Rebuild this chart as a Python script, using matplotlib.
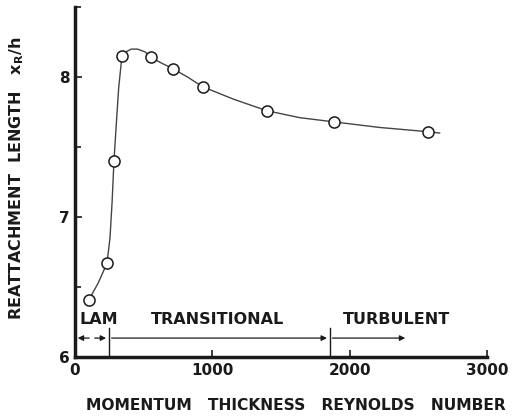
import numpy as np
import matplotlib.pyplot as plt

# measured points (momentum thickness Reynolds number, x_R/h)
re_theta = [102, 233, 284, 342, 553, 713, 931, 1396, 1884, 2567]
xr_h = [6.41, 6.67, 7.40, 8.15, 8.14, 8.06, 7.93, 7.76, 7.68, 7.61]

# faired curve
curve_x = [102, 170, 233, 255, 270, 284, 300, 318, 342, 370, 410, 455, 510, 553,
           630, 713, 820, 931, 1160, 1396, 1636, 1884, 2218, 2567, 2655]
curve_y = [6.41, 6.53, 6.67, 6.85, 7.10, 7.40, 7.65, 7.92, 8.15, 8.18, 8.20, 8.20, 8.18, 8.14,
           8.10, 8.06, 8.00, 7.93, 7.84, 7.76, 7.71, 7.68, 7.64, 7.61, 7.60]

# regime boundaries and labels
lam_end = 247
trans_end = 1855
turb_end = 2425
regimes = ['LAM', 'TRANSITIONAL', 'TURBULENT']
regime_x = [30, 1040, 2340]

plt.rcParams['font.family'] = 'DejaVu Sans'
plt.rcParams['font.weight'] = 'bold'

fig = plt.figure(figsize=(5.17, 4.18), dpi=100)
ax = fig.add_axes([0.145, 0.146, 0.797, 0.837])

ink = '#1a1a1a'
ax.plot(curve_x, curve_y, '-', color='#444444', lw=1.0)
ax.plot(re_theta, xr_h, 'o', mfc='white', mec=ink, ms=8, mew=1.1)

ax.set_xlim(0, 3000)
ax.set_ylim(6, 8.5)
ax.set_xticks([0, 1000, 2000, 3000])
ax.set_yticks([6, 7, 8])
ax.set_yticks([6.5, 7.5, 8.5], minor=True)
ax.tick_params(direction='in', length=5, width=1.2, colors=ink, labelsize=11, pad=4)
ax.tick_params(which='minor', direction='in', length=4, width=1.2, colors=ink)
for lab in ax.get_xticklabels() + ax.get_yticklabels():
    lab.set_fontweight('bold')
for s in ['top', 'right']:
    ax.spines[s].set_visible(False)
for s in ['left', 'bottom']:
    ax.spines[s].set_linewidth(2.5)
    ax.spines[s].set_color(ink)

# regime arrows
ya = 6.135
arr = dict(arrowstyle='-|>', color=ink, lw=0.9, mutation_scale=8)
ax.annotate('', xy=(0, ya), xytext=(lam_end / 2, ya), arrowprops=arr)
ax.annotate('', xy=(lam_end, ya), xytext=(lam_end / 2, ya), arrowprops=arr)
ax.annotate('', xy=(trans_end, ya), xytext=(lam_end, ya), arrowprops=arr)
ax.annotate('', xy=(turb_end, ya), xytext=(trans_end, ya), arrowprops=arr)
ax.plot([lam_end, lam_end], [6, 6.21], color=ink, lw=1.0)
ax.plot([trans_end, trans_end], [6, 6.21], color=ink, lw=1.0)

for name, xpos in zip(regimes, regime_x):
    ax.text(xpos, 6.265, name, ha='left' if name == 'LAM' else 'center', va='center',
            fontsize=11.5, fontweight='bold', color=ink)

fig.text(0.033, 0.573, 'REATTACHMENT  LENGTH   $\\mathbf{x_R}$/h', rotation=90,
         ha='center', va='center', fontsize=11.5, fontweight='bold', color=ink)
fig.text(0.572, 0.03, 'MOMENTUM   THICKNESS   REYNOLDS   NUMBER', ha='center',
         va='center', fontsize=11.2, fontweight='bold', color=ink)

fig.savefig('out.png', dpi=100)
